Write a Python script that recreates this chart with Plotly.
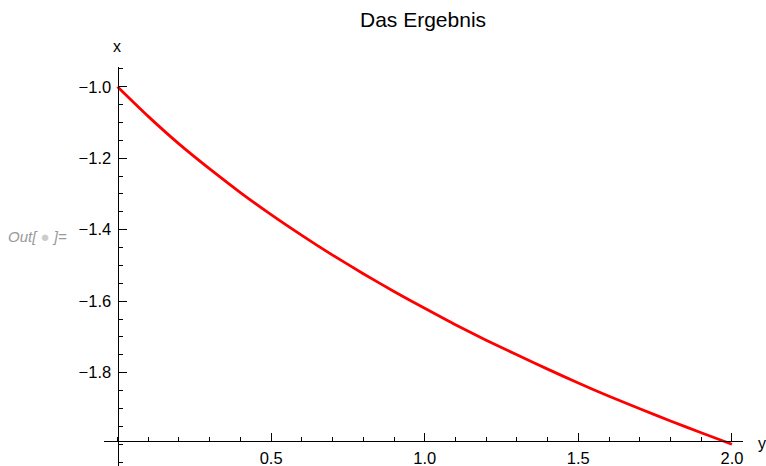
import plotly.graph_objects as go

# Data (horizontal axis "y", vertical axis "x")
y_vals = [0.0, 0.1, 0.2, 0.3, 0.4, 0.5, 0.6, 0.7, 0.8, 0.9, 1.0,
          1.1, 1.2, 1.3, 1.4, 1.5, 1.6, 1.7, 1.8, 1.9, 2.0]
x_vals = [-1.000, -1.083, -1.160, -1.230, -1.296, -1.358, -1.416, -1.471,
          -1.523, -1.573, -1.620, -1.666, -1.709, -1.750, -1.790, -1.829,
          -1.866, -1.901, -1.935, -1.968, -2.000]

x_ticks = [0.5, 1.0, 1.5, 2.0]
y_ticks = [-1.0, -1.2, -1.4, -1.6, -1.8]

W, H = 766, 466
FONT = "Liberation Sans, Arial, sans-serif"


def px(xp):
    return xp / W


def py(yp):
    return 1 - yp / H


fig = go.Figure()
fig.add_trace(go.Scatter(
    x=y_vals, y=x_vals, mode="lines",
    line=dict(color="#FF0000", width=2.8, shape="spline", smoothing=0.6),
    hoverinfo="skip", showlegend=False,
))

fig.update_layout(
    width=W, height=H,
    margin=dict(l=0, r=0, t=0, b=0),
    paper_bgcolor="white", plot_bgcolor="white",
    font=dict(family=FONT, size=16, color="#000000"),
    showlegend=False,
    xaxis=dict(
        domain=[px(104), px(743)],
        range=[-0.044, 2.036],
        anchor="free", position=py(441), side="bottom",
        showline=True, linecolor="#000000", linewidth=1,
        showgrid=False, zeroline=False,
        tickmode="array", tickvals=x_ticks, tickformat=".1f",
        ticks="inside", ticklen=8, tickwidth=1, tickcolor="#000000",
        ticklabelstandoff=2,
        minor=dict(dtick=0.1, tick0=0, ticks="inside", ticklen=4,
                   tickwidth=1, tickcolor="#000000", showgrid=False),
        tickfont=dict(family=FONT, size=16.5, color="#000000"),
        automargin=False,
    ),
    yaxis=dict(
        domain=[0, py(66.7)],
        range=[-2.061, -0.944],
        anchor="free", position=px(117.5), side="left",
        showline=True, linecolor="#000000", linewidth=1,
        showgrid=False, zeroline=False,
        tickmode="array", tickvals=y_ticks, tickformat=".1f",
        ticks="inside", ticklen=8, tickwidth=1, tickcolor="#000000",
        ticklabelstandoff=3,
        minor=dict(dtick=0.05, tick0=0, ticks="inside", ticklen=4,
                   tickwidth=1, tickcolor="#000000", showgrid=False),
        tickfont=dict(family=FONT, size=16.5, color="#000000"),
        automargin=False,
    ),
    annotations=[
        dict(text="Das Ergebnis", xref="paper", yref="paper",
             x=px(423), y=py(20), xanchor="center", yanchor="middle",
             showarrow=False, font=dict(family=FONT, size=21, color="#000000")),
        dict(text="x", xref="paper", yref="paper",
             x=px(117.5), y=py(46), xanchor="center", yanchor="middle",
             showarrow=False, font=dict(family=FONT, size=16, color="#000000")),
        dict(text="y", xref="paper", yref="paper",
             x=px(756), y=py(443), xanchor="left", yanchor="middle",
             showarrow=False, font=dict(family=FONT, size=16, color="#000000")),
        dict(text="<i>Out[ <span style='color:#cccccc'>●</span> ]=</i>",
             xref="paper", yref="paper",
             x=px(37), y=py(236), xanchor="center", yanchor="middle",
             showarrow=False, font=dict(family=FONT, size=15, color="#999999")),
    ],
)

fig.write_html(
    "out.html",
    config={"displayModeBar": False},
    post_script="document.body.style.margin='0';document.body.style.overflow='hidden';",
)
